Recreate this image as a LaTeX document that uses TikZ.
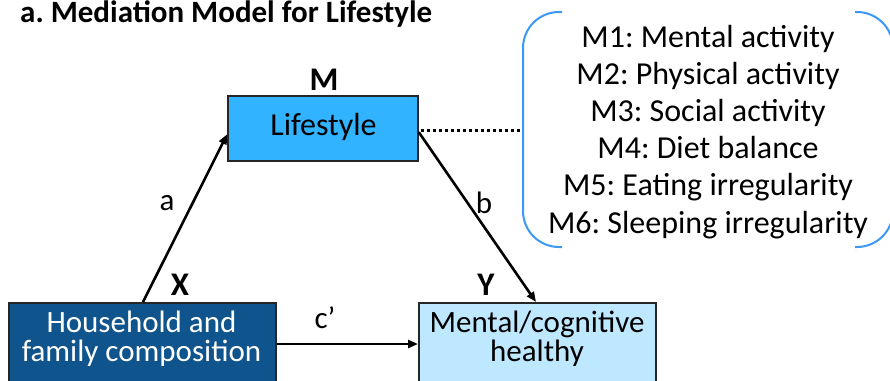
\documentclass[tikz,border=0pt]{standalone}
\usepackage{fontspec}
\setmainfont{Carlito}
\usetikzlibrary{arrows.meta,calc}
\definecolor{lsblue}{HTML}{31B3FF}
\definecolor{hhblue}{HTML}{0F548C}
\definecolor{mhblue}{HTML}{BDE8FF}
\definecolor{brblue}{HTML}{3B99F5}
\tikzset{
  box/.style={draw=black!85, line width=1.6pt, rectangle, inner sep=0pt},
  arr/.style={line width=2.6pt, -{Triangle[length=10pt,width=8pt]}},
  lbl/.style={font=\fontsize{31}{31}\selectfont, inner sep=0pt},
  var/.style={font=\fontsize{33}{33}\selectfont\bfseries, inner sep=0pt, anchor=base},
  txt/.style={font=\fontsize{32}{32}\selectfont, inner sep=0pt, anchor=base},
  btxt/.style={font=\fontsize{31}{28.5}\selectfont, inner sep=0pt, align=center, anchor=center},
  mtxt/.style={font=\fontsize{32}{32}\selectfont\frenchspacing, inner sep=0pt, anchor=base},
  brk/.style={draw=brblue, line width=2pt, rounded corners=36pt}
}
\begin{document}
\frenchspacing
\begin{tikzpicture}[x=1pt,y=-1pt]
\useasboundingbox (0,0) rectangle (890,380);
\clip (0,0) rectangle (890,380);
% title
\node[font=\fontsize{31}{31}\selectfont\bfseries, inner sep=0pt, anchor=base west] (title) at (20,22.5) {a. Mediation Model for Lifestyle};
% boxes
\node[box, fill=lsblue, minimum width=190pt, minimum height=65pt] (ls) at (323,128.5) {};
\node[box, fill=hhblue, minimum width=267pt, minimum height=96pt, anchor=north west] (hh) at (8,302) {};
\node[box, fill=mhblue, minimum width=237pt, minimum height=96pt, anchor=north west] (mh) at (418,302) {};
% texts
\node[txt] (lst) at (323.5,135) {Lifestyle};
\node[btxt, text=white] (hht) at (141.5,338.5) {Household and\\family composition};
\node[btxt] (mht) at (537,338.5) {Mental/cognitive\\healthy};
% variable labels
\node[var] (vM) at (324,90) {M};
\node[var] (vX) at (180,295) {X};
\node[var] (vY) at (486,295) {Y};
% arrows
\coordinate (aS) at ($(hh.north west)+(135,0)$);
\coordinate (aE) at ($(ls.north west)+(0,39)$);
\draw[arr] (aS) -- (aE);
\coordinate (bS) at ($(ls.north east)+(0,37)$);
\coordinate (bE) at ($(mh.north west)+(118,0)$);
\draw[arr] (bS) -- (bE);
\coordinate (cS) at ($(hh.north east)+(0,42)$);
\coordinate (cE) at ($(mh.north west)+(0,42)$);
\draw[arr] (cS) -- (cE);
\node[lbl] (la) at (167,203) {a};
\node[lbl] (lb) at (484,203) {b};
\node[lbl] (lc) at (325,318) {c’};
% bracket
\coordinate (brL) at (523,130);
\draw[line width=3pt, dash pattern=on 3.5pt off 2.5pt] ($(ls.east)+(2,1.5)$) -- (brL);
\draw[brk] (562,12) -- (523,12) -- (523,247) -- (562,247);
\draw[brk] (855,12) -- (893,12) -- (893,247) -- (855,247);
\foreach \t [count=\i] in {M1: Mental activity, M2: Physical activity, M3: Social activity, M4: Diet balance, M5: Eating irregularity, M6: Sleeping irregularity}
  \node[mtxt] (m\i) at (708,{47+37.2*(\i-1)}) {\t};
\end{tikzpicture}
\end{document}
